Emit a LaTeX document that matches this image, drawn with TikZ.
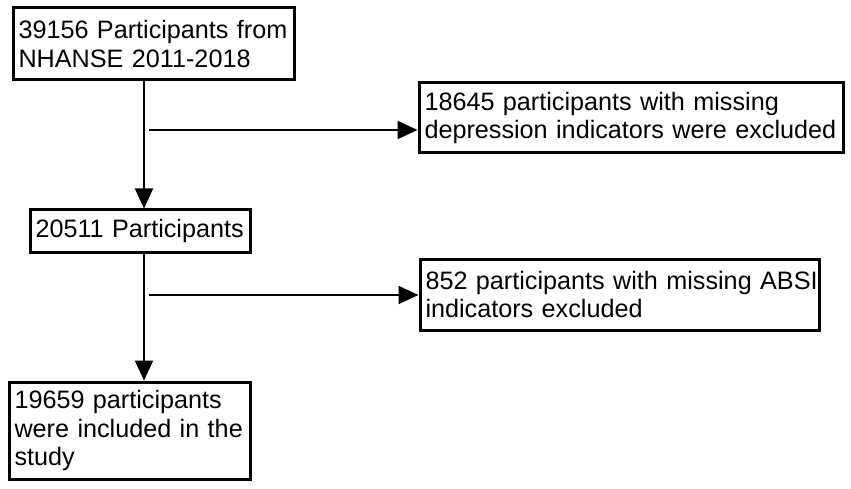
\documentclass[tikz,border=0pt]{standalone}
\usepackage{fontspec}
\setmainfont{Liberation Sans}
\usetikzlibrary{arrows.meta}
\begin{document}
\begin{tikzpicture}[x=1pt,y=-1pt,
  box/.style={draw=black,line width=3pt,align=left,inner xsep=5.5pt,inner ysep=0pt,
    font=\fontsize{25.2}{28.3}\selectfont},
  arr/.style={line width=2pt,-{Triangle[length=20pt,width=18pt]}}]
\useasboundingbox (0,0) rectangle (851,489);
\node[box,minimum width=281pt,minimum height=72pt,text width=270pt] (b1) at (153.5,44) {\mbox{39156 Participants from}\\\mbox{NHANSE 2011-2018}};
\node[box,minimum width=220pt,minimum height=42pt,text width=209pt] (b2) at (140,231) {\mbox{20511 Participants}};
\node[box,minimum width=424pt,minimum height=70pt,text width=413pt] (b3) at (631,118) {\mbox{18645 participants with missing}\\\mbox{depression indicators were excluded}};
\node[box,minimum width=399pt,minimum height=71pt,text width=388pt] (b4) at (619.5,294.5) {\mbox{852 participants with missing ABSI}\\\mbox{indicators excluded}};
\node[box,minimum width=241pt,minimum height=97pt,text width=230pt] (b5) at (129.5,430.5) {\mbox{19659 participants}\\\mbox{were included in the}\\\mbox{study}};
\coordinate (v1) at (144,80);
\coordinate (v2) at (144,252);
\coordinate (h1) at (149,130);
\coordinate (h2) at (149,295);
\draw[arr] (v1) -- (v1 |- b2.north);
\draw[arr] (v2) -- (v2 |- b5.north);
\draw[arr] (h1) -- (h1 -| b3.west);
\draw[arr] (h2) -- (h2 -| b4.west);
\end{tikzpicture}
\end{document}
